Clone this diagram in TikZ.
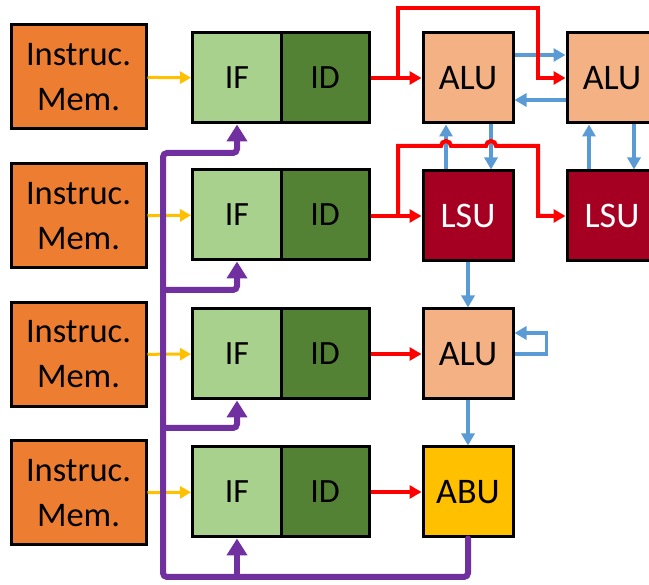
\documentclass[tikz,border=0pt]{standalone}
\usepackage{fontspec}
\setmainfont{Carlito}
\usetikzlibrary{arrows.meta}
\definecolor{memorange}{HTML}{ED7D31}
\definecolor{ifgreen}{HTML}{A9D18E}
\definecolor{idgreen}{HTML}{548235}
\definecolor{alupeach}{HTML}{F4B183}
\definecolor{lsured}{HTML}{A50021}
\definecolor{abugold}{HTML}{FFC000}
\definecolor{linkblue}{HTML}{5B9BD5}
\definecolor{ctrlpurple}{HTML}{7030A0}
\definecolor{datared}{HTML}{FF0000}
\begin{document}
\begin{tikzpicture}[x=1pt,y=-1pt,
  unit/.style={draw=black,line width=3pt,inner sep=0pt,
    minimum width=90pt,minimum height=90pt,
    font=\fontsize{36}{42}\selectfont},
  membox/.style={unit,fill=memorange,minimum width=135pt,minimum height=104pt,
    align=center,font=\fontsize{34.5}{45}\selectfont},
  ifbox/.style={unit,fill=ifgreen,minimum width=89pt,font=\fontsize{34}{40}\selectfont},
  idbox/.style={unit,fill=idgreen,minimum width=88pt,font=\fontsize{34}{40}\selectfont},
  alubox/.style={unit,fill=alupeach},
  lsubox/.style={unit,fill=lsured,text=white},
  abubox/.style={unit,fill=abugold},
  fetch/.style={draw=abugold,line width=3pt,-{Triangle[width=12pt,length=11pt]}},
  issue/.style={draw=datared,line width=4pt,-{Triangle[width=13pt,length=12pt]}},
  link/.style={draw=linkblue,line width=3.5pt,-{Triangle[width=13pt,length=12pt]}},
  ctrl/.style={draw=ctrlpurple,line width=6pt,line cap=round,rounded corners=4pt,
    -{Triangle[width=20pt,length=17pt]}},
]
\useasboundingbox (0,0) rectangle (649,585);
\clip (0,0) rectangle (649,585);

% instruction memories
\node[membox] (mem1) at (78.5,77) {Instruc.\\Mem.};
\node[membox] (mem2) at (78.5,216) {Instruc.\\Mem.};
\node[membox] (mem3) at (78.5,354.5) {Instruc.\\Mem.};
\node[membox] (mem4) at (78.5,493) {Instruc.\\Mem.};

% fetch / decode stages
\foreach \r/\y in {1/78,2/215,3/354,4/492}{
  \node[ifbox] (if\r) at (237,\y) {IF};
  \node[idbox] (id\r) at (325,\y) {ID};
}

% execution units
\node[alubox] (alu1) at (468,78) {ALU};
\node[alubox] (alu2) at (612,78) {ALU};
\node[lsubox] (lsu1) at (468,216) {LSU};
\node[lsubox] (lsu2) at (612,216) {LSU};
\node[alubox] (alu3) at (468,354) {ALU};
\node[abubox] (abu)  at (468,492) {ABU};

% instruction fetch
\foreach \r in {1,2,3,4}{
  \draw[fetch] (mem\r) -- (if\r);
}

% data links between units
\draw[link] ([yshift=23pt]alu1.east) -- ([yshift=23pt]alu2.west);
\draw[link] ([yshift=-22pt]alu2.west) -- ([yshift=-22pt]alu1.east);
\draw[link] ([xshift=-22pt]lsu1.north) -- ([xshift=-22pt]alu1.south);
\draw[link] ([xshift=23pt]alu1.south) -- ([xshift=23pt]lsu1.north);
\draw[link] ([xshift=-23pt]lsu2.north) -- ([xshift=-23pt]alu2.south);
\draw[link] ([xshift=22pt]alu2.south) -- ([xshift=22pt]lsu2.north);
\draw[link] (lsu1.south) -- (alu3.north);
\draw[link] (alu3.east) -- ++(32,0) -- ++(0,-21) -- ([yshift=21pt]alu3.east);
\draw[link] (alu3.south) -- (abu.north);

% issue paths (the second-row branch hops over the vertical links)
\coordinate (b1) at (398,78);
\coordinate (b2) at (398,216);
\draw[issue] (id1.east) -- (alu1.west);
\draw[issue] (b1) |- (538,8) |- (alu2.west);
\draw[issue] (id2.east |- lsu1.west) -- (lsu1.west);
\draw[issue] (b2) -- (398,146) -- (441,146)
  arc[start angle=180,end angle=0,radius=5pt] -- (486,146)
  arc[start angle=180,end angle=0,radius=5pt] -- (538,146) |- (lsu2.west);
\draw[issue] (id3.east) -- (alu3.west);
\draw[issue] (id4.east) -- (abu.west);

% branch control back to the fetch stages
\coordinate (pc) at (163,577);
\coordinate (p1) at (163,153);
\coordinate (p2) at (163,290);
\coordinate (p3) at (163,428);
\draw[ctrl] (abu.south) |- (pc) -- (p1) -| (if1.south);
\draw[ctrl] (p2) -| (if2.south);
\draw[ctrl] (p3) -| (if3.south);
\draw[ctrl] (if4.south |- pc) -- (if4.south);
\end{tikzpicture}
\end{document}
